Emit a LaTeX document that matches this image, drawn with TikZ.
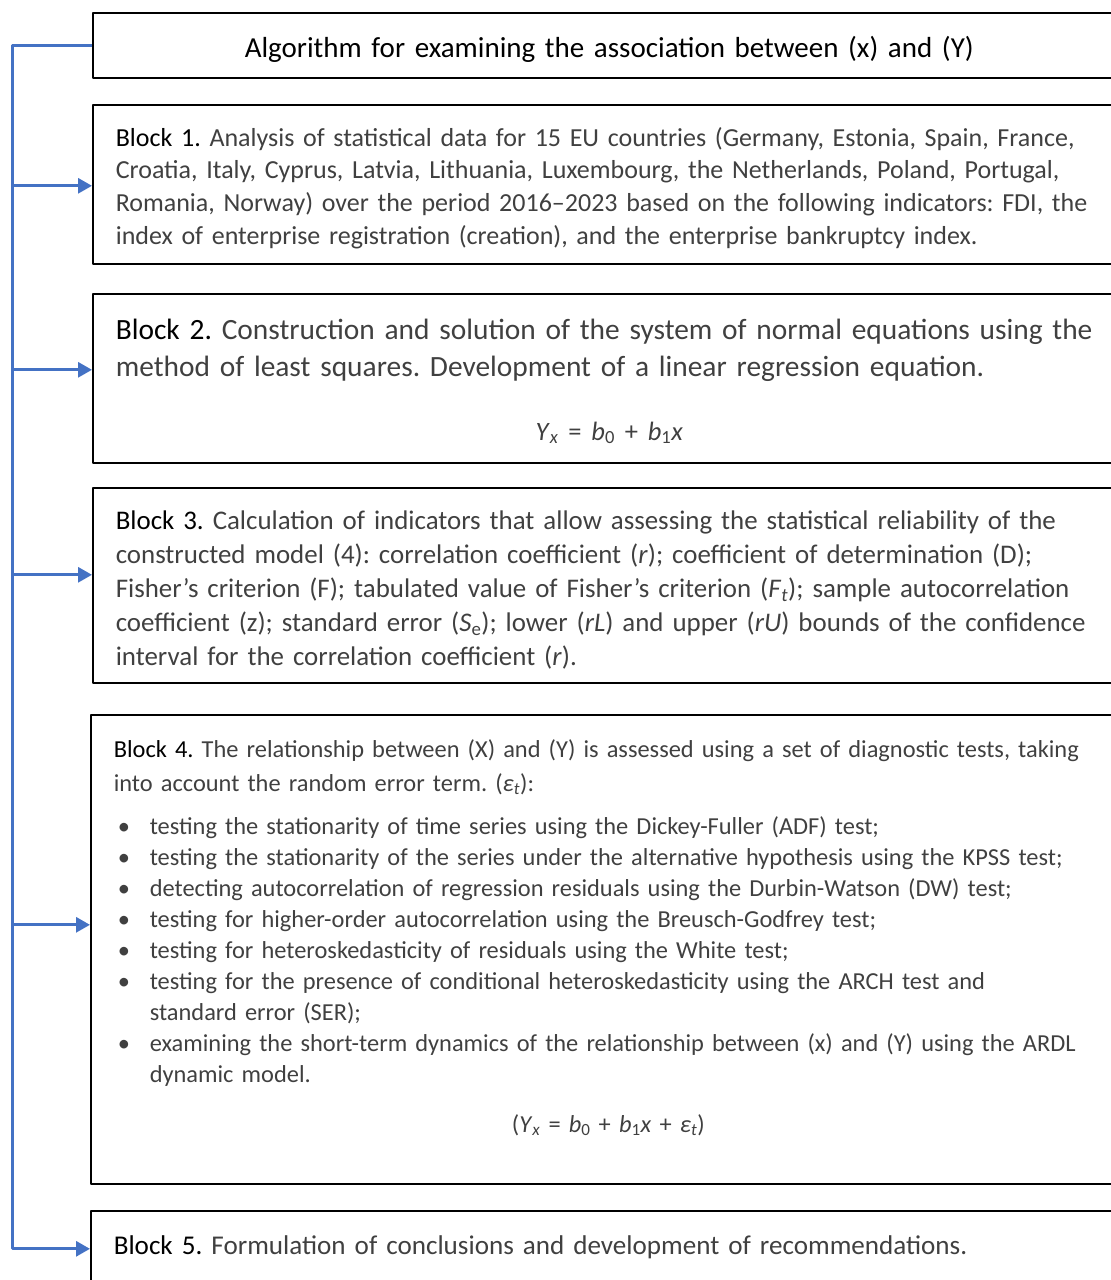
\documentclass[tikz,border=0pt]{standalone}
\usepackage{fontspec}
\setmainfont{Carlito}
\usetikzlibrary{arrows.meta}
\definecolor{linkblue}{HTML}{4472C4}
\definecolor{bodygray}{HTML}{404040}
\newcommand{\blocklabel}[1]{{\color{black}#1}}
\newcommand{\topgap}[1]{\rule{0pt}{#1}}
\newcommand{\bul}{\hspace*{4pt}\makebox[32pt][l]{•}}
\newcommand{\cont}{\hspace*{36pt}}
\frenchspacing
\hyphenpenalty=10000
\begin{document}
\begin{tikzpicture}[x=1pt,y=-1pt,line join=round,
	box/.style={draw=black,line width=1.6pt,anchor=north west,align=left,inner xsep=23pt,inner ysep=0pt,text=bodygray},
	link/.style={draw=linkblue,line width=3pt},
	tip/.style={-{Triangle[length=14pt,width=15pt]}}]
	%==page size
	\def\W{1111}
	\def\H{1280}
	\def\tw{987pt}
	\def\tww{989pt}
	%==============
	\useasboundingbox (0,0) rectangle (\W,\H);
	\clip (0,0) rectangle (\W,\H);
	\coordinate (rail) at (12,0);
	\node[box,align=center,text=black,text width=\tw,minimum height=65pt,font=\fontsize{29}{36}\selectfont] (title) at (92,12) {\topgap{1em}Algorithm for examining the association between (x) and (Y)};
	\node[box,text width=\tw,minimum height=159pt,font=\fontsize{26}{32.7}\selectfont] (b1) at (92,104) {\topgap{1em}\blocklabel{Block 1.} Analysis of statistical data for 15 EU countries (Germany, Estonia, Spain, France,\\
		Croatia, Italy, Cyprus, Latvia, Lithuania, Luxembourg, the Netherlands, Poland, Portugal,\\
		Romania, Norway) over the period 2016–2023 based on the following indicators: FDI, the\\
		index of enterprise registration (creation), and the enterprise bankruptcy index.};
	\node[box,text width=\tw,minimum height=169pt,font=\fontsize{29.4}{37}\selectfont] (b2) at (92,293) {\topgap{0.9em}\blocklabel{Block 2.} Construction and solution of the system of normal equations using the\\
		method of least squares. Development of a linear regression equation.\\[27pt]
		\makebox[\tw]{\fontsize{26.5}{32}\selectfont\textit{Y}\textsubscript{\textit{x}} = \textit{b}\textsubscript{0} + \textit{b}\textsubscript{1}\textit{x}}};
	\node[box,text width=\tw,minimum height=195pt,font=\fontsize{26.9}{34.2}\selectfont] (b3) at (92,487) {\topgap{1.05em}\blocklabel{Block 3.} Calculation of indicators that allow assessing the statistical reliability of the\\
		constructed model (4): correlation coefficient (\textit{r}); coefficient of determination (D);\\
		Fisher’s criterion (F); tabulated value of Fisher’s criterion (\textit{F}\textsubscript{\textit{t}}); sample autocorrelation\\
		coefficient (z); standard error (\textit{S}\textsubscript{e}); lower (\textit{rL}) and upper (\textit{rU}) bounds of the confidence\\
		interval for the correlation coefficient (\textit{r}).};
	\node[box,text width=\tww,minimum height=469pt,font=\fontsize{24.4}{31}\selectfont] (b4) at (90,714) {\blocklabel{Block 4.} The relationship between (X) and (Y) is assessed using a set of diagnostic tests, taking\\[3pt]
		into account the random error term. (\textit{ε}\textsubscript{\textit{t}}):\\[12pt]
		\bul testing the stationarity of time series using the Dickey-Fuller (ADF) test;\\
		\bul testing the stationarity of the series under the alternative hypothesis using the KPSS test;\\
		\bul detecting autocorrelation of regression residuals using the Durbin-Watson (DW) test;\\
		\bul testing for higher-order autocorrelation using the Breusch-Godfrey test;\\
		\bul testing for heteroskedasticity of residuals using the White test;\\
		\bul testing for the presence of conditional heteroskedasticity using the ARCH test and\\
		\cont standard error (SER);\\
		\bul examining the short-term dynamics of the relationship between (x) and (Y) using the ARDL\\
		\cont dynamic model.\\[19pt]
		\makebox[\tww]{(\textit{Y}\textsubscript{\textit{x}} = \textit{b}\textsubscript{0} + \textit{b}\textsubscript{1}\textit{x} + \textit{ε}\textsubscript{\textit{t}})}\\[-4pt]\mbox{}};
	\node[box,text width=\tww,minimum height=72pt,font=\fontsize{27.1}{34}\selectfont] (b5) at (90,1210) {\blocklabel{Block 5.} Formulation of conclusions and development of recommendations.};
	%==connectors
	\foreach \b/\s in {b1/-1.5,b2/8.5,b3/10.5,b4/24.5,b5/-2}\coordinate (p\b) at ([yshift=\s pt]\b.west);
	\draw[link,tip] (title.west) -- (title.west -| rail) -- (pb5 -| rail) -- (pb5);
	\foreach \b in {b1,b2,b3,b4}\draw[link,tip] (p\b -| rail) -- (p\b);
\end{tikzpicture}
\end{document}
